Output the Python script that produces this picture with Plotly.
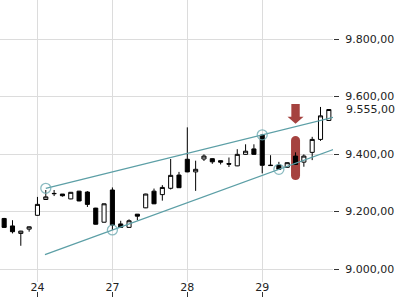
import numpy as np
import plotly.graph_objects as go

# ---- data (hourly candles, 9 per session) ----
opens  = [9176, 9150, 9124, 9139,
          9187, 9242, 9262, 9261, 9244, 9271, 9268, 9212, 9163,
          9275, 9157, 9145, 9191, 9213, 9271, 9259, 9281, 9327,
          9382, 9338, 9383, 9384, 9377, 9367, 9359, 9399, 9418,
          9466, 9360, 9362, 9354, 9393, 9372, 9406, 9451, 9517]
highs  = [9178, 9170, 9133, 9148,
          9251, 9275, 9275, 9261, 9268, 9272, 9271, 9213, 9228,
          9284, 9168, 9173, 9191, 9262, 9280, 9292, 9383, 9338,
          9493, 9377, 9399, 9385, 9378, 9388, 9417, 9434, 9434,
          9470, 9396, 9373, 9371, 9406, 9399, 9460, 9564, 9556]
lows   = [9143, 9124, 9081, 9130,
          9186, 9241, 9254, 9252, 9243, 9236, 9216, 9155, 9162,
          9136, 9144, 9144, 9170, 9212, 9226, 9238, 9277, 9282,
          9337, 9272, 9376, 9366, 9364, 9355, 9358, 9398, 9398,
          9333, 9359, 9346, 9353, 9363, 9356, 9379, 9446, 9516]
closes = [9145, 9130, 9132, 9147,
          9225, 9251, 9263, 9255, 9267, 9237, 9225, 9156, 9227,
          9153, 9145, 9168, 9184, 9261, 9227, 9284, 9326, 9283,
          9338, 9347, 9393, 9373, 9372, 9365, 9399, 9410, 9399,
          9361, 9361, 9347, 9370, 9364, 9393, 9451, 9533, 9555]
first_offset = -4            # four candles of the previous session
candles_per_day = 9
day_labels = ["24", "27", "28", "29"]
y_ticks = [9000, 9200, 9400, 9600, 9800]
last_price = 9555

# trend line pivots (bar index, value)
upper_px, upper_py = [1, 27], [9281, 9467]
lower_px, lower_py = [9, 29], [9136, 9347]
upper_start, lower_start, line_end = 1, 0.9, 35.6

# signal markers
signal_x = 31
arrow_y = 9540
capsule_y = 9386

TEAL = "#5c9fa6"
RED = "rgba(158,52,48,0.93)"
GRID = "#dcdcdc"
TXT = "#222222"


def de_fmt(v):
    s = f"{v:,.2f}"
    return s.replace(",", "X").replace(".", ",").replace("X", ".")


x = list(np.arange(len(opens)) + first_offset)
day_ticks = [i * candles_per_day for i in range(len(day_labels))]

fig = go.Figure()
fig.add_trace(go.Candlestick(
    x=x, open=opens, high=highs, low=lows, close=closes,
    increasing=dict(line=dict(color="black", width=1), fillcolor="white"),
    decreasing=dict(line=dict(color="black", width=1), fillcolor="black"),
    whiskerwidth=0, showlegend=False, hoverinfo="skip"))


def trend(px, py, x0, x1):
    k = (py[1] - py[0]) / (px[1] - px[0])
    return [x0, x1], [py[0] + k * (x0 - px[0]), py[0] + k * (x1 - px[0])]


for px, py, xs in [(upper_px, upper_py, upper_start), (lower_px, lower_py, lower_start)]:
    lx, ly = trend(px, py, xs, line_end)
    fig.add_trace(go.Scatter(x=lx, y=ly, mode="lines", line=dict(color=TEAL, width=1.3),
                             showlegend=False, hoverinfo="skip", cliponaxis=True))
    fig.add_trace(go.Scatter(x=px, y=py, mode="markers",
                             marker=dict(symbol="circle-open", size=10, color="rgba(110,170,178,0.8)",
                                         line=dict(width=1.3)),
                             showlegend=False, hoverinfo="skip"))

# dummy trace for the bottom tick axis
fig.add_trace(go.Scatter(x=day_ticks, y=[y_ticks[0]] * len(day_ticks), xaxis="x2",
                         mode="markers", marker=dict(opacity=0), showlegend=False, hoverinfo="skip"))

xr = [-4.5, 35.5]
yr = [8955, 9936]

arrow_path = "M -4.2,9.8 L 4.2,9.8 L 4.2,-3 L 8,-3 L 0,-9.8 L -8,-3 L -4.2,-3 Z"
capsule_path = ("M -4.5,17.5 C -4.5,23.5 4.5,23.5 4.5,17.5 L 4.5,-17.5 "
                "C 4.5,-23.5 -4.5,-23.5 -4.5,-17.5 Z")
shapes = [
    dict(type="path", path=arrow_path, xref="x", yref="y", xsizemode="pixel", ysizemode="pixel",
         xanchor=signal_x, yanchor=arrow_y, fillcolor=RED, line=dict(width=0), layer="above"),
    dict(type="path", path=capsule_path, xref="x", yref="y", xsizemode="pixel", ysizemode="pixel",
         xanchor=signal_x, yanchor=capsule_y, fillcolor=RED, line=dict(width=0), layer="between"),
]

fig.update_layout(
    width=400, height=300,
    margin=dict(l=0, r=67, t=0, b=0),
    paper_bgcolor="white", plot_bgcolor="white",
    separators=",.",
    font=dict(family="DejaVu Sans", size=11, color=TXT),
    showlegend=False,
    shapes=shapes,
    xaxis=dict(range=xr, tickvals=day_ticks, ticktext=day_labels, showgrid=True, gridcolor=GRID,
               gridwidth=1, zeroline=False, showline=False, ticks="", rangeslider=dict(visible=False),
               ticklabelstandoff=-3,
               fixedrange=True, tickfont=dict(size=11, color=TXT)),
    xaxis2=dict(range=xr, tickvals=day_ticks, overlaying="x", anchor="free", position=0.01,
                ticks="inside", ticklen=5, tickcolor="#333", showticklabels=False, showgrid=False,
                zeroline=False, showline=False),
    yaxis=dict(domain=[0.06, 1], range=yr, side="right", tickvals=y_ticks,
               ticktext=[de_fmt(v) for v in y_ticks], showgrid=True, gridcolor=GRID, gridwidth=1,
               zeroline=False, showline=False, ticks="outside", ticklen=5, tickcolor="#333",
               ticklabelstandoff=4,
               tickfont=dict(size=11, color=TXT)),
    annotations=[dict(x=1, xref="paper", y=last_price, yref="y", text=de_fmt(last_price),
                      showarrow=False, xanchor="left", xshift=11,
                      font=dict(size=11, color=TXT, family="DejaVu Sans"))],
)

fig.write_html("out.html")
